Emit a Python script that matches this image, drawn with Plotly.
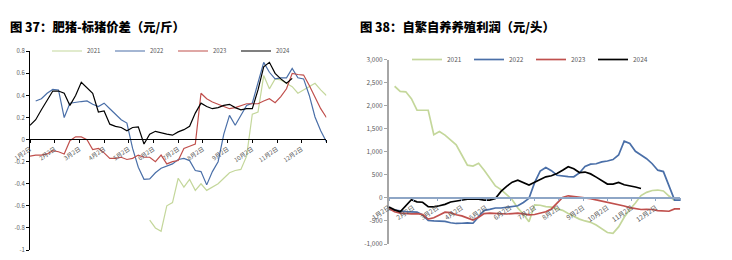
import plotly.graph_objects as go

W, H = 732, 260
FONT = "Noto Sans CJK SC"

years = ["2021", "2022", "2023", "2024"]
colors = ["#C4D79B", "#4A6FA8", "#C0504D", "#000000"]
weeks = list(range(53))
month_labels = ["1月2日", "2月2日", "3月2日", "4月2日", "5月2日", "6月2日",
                "7月2日", "8月2日", "9月2日", "10月2日", "11月2日", "12月2日"]

# 图37 肥猪-标猪价差（元/斤），weekly
spread_2021 = [None] * 21 + [-0.73, -0.80, -0.83, -0.60, -0.57, -0.35, -0.43, -0.36, -0.46, -0.40,
                             -0.46, -0.43, -0.40, -0.35, -0.30, -0.28, -0.27, -0.15, 0.23, 0.25,
                             0.58, 0.46, 0.55, 0.54, 0.51, 0.48, 0.42, 0.45, 0.48, 0.51, 0.45, 0.40]
spread_2022 = [None, 0.35, 0.37, 0.42, 0.455, 0.45, 0.20, 0.33, 0.34, 0.345, 0.35, 0.32, 0.30, 0.33,
               0.28, 0.23, 0.18, 0.15, -0.08, -0.25, -0.36, -0.355, -0.30, -0.26, -0.24, -0.22,
               -0.18, -0.17, -0.19, -0.28, -0.29, -0.41, -0.29, -0.20, 0.05, 0.22, 0.13, 0.22,
               0.31, 0.33, 0.52, 0.70, 0.61, 0.55, 0.56, 0.56, 0.645, 0.56, 0.55, 0.40, 0.205,
               0.08, -0.02]
spread_2023 = [-0.15, -0.14, -0.14, -0.13, -0.10, -0.11, -0.13, -0.01, 0.025, 0.025,
               0.0, -0.09, -0.08, -0.12, -0.17, -0.17, -0.16, -0.18, -0.17, -0.14,
               -0.16, -0.16, -0.20, -0.14, -0.22, -0.20, -0.19, -0.08, -0.06, -0.04,
               0.42, 0.37, 0.34, 0.32, 0.30, 0.28, 0.29, 0.31, 0.325, 0.325,
               0.325, 0.35, 0.37, 0.335, 0.39, 0.46, 0.60, 0.59, 0.585, 0.49,
               0.38, 0.28, 0.20]
spread_2024 = [0.13, 0.18, 0.27, 0.36, 0.44, 0.44, 0.42, 0.31, 0.40, 0.52, 0.47, 0.42, 0.25,
               0.26, 0.14, 0.12, 0.11, 0.08, 0.11, 0.115, -0.04, 0.05, 0.075, 0.06, 0.05, 0.04,
               0.07, 0.09, 0.12, 0.24, 0.33, 0.30, 0.28, 0.29, 0.31, 0.32, 0.29, 0.27, 0.28,
               0.28, 0.45, 0.66, 0.70, 0.60, 0.55, 0.51, 0.555] + [None] * 6

# 图38 自繁自养养殖利润（元/头），weekly
profit_2021 = [None, 2420, 2310, 2300, 2150, 1900, 1900, 1900, 1370, 1440, 1360, 1260, 1150, 930,
               710, 690, 750, 600, 420, 260, 180, 80, -40, -220, -355, -520, -150, -160, -190,
               -200, -240, -270, -340, -400, -460, -500, -530, -590, -670, -750, -770, -630,
               -420, -250, -110, 50, 120, 160, 170, 150, 40, -60, None]
profit_2022 = [-250, -270, -290, -300, -305, -310, -370, -490, -500, -500,
               -510, -540, -555, -550, -540, -550, -410, -270, -250, -220,
               -220, -200, -190, -170, -100, -10, 330, 580, 660, 590,
               490, 470, 460, 457, 540, 680, 730, 740, 780, 800,
               830, 930, 1230, 1180, 1010, 930, 850, 740, 600, 570,
               280, -50, -50]
profit_2023 = [-230, -300, -330, -345, -345, -340, -360, -460, -430, -370,
               -310, -320, -365, -390, -440, -480, -420, -340, -330, -340,
               -350, -350, -340, -330, -345, -370, -360, -330, -300, -240,
               -120, 10, 45, 30, 15, 5, -15, -45, -70, -95,
               -110, -150, -175, -210, -235, -252, -248, -252, -275, -290,
               -290, -240, -240]
profit_2024 = [-200, -260, -300, -180, -40, -87, -95, -190, -196, -170,
               -140, -90, -65, -45, -30, -28, -30, -50, -50, -15,
               140, 250, 340, 385, 340, 280, 340, 400, 457, 480,
               530, 600, 674, 630, 550, 560, 520, 450, 370, 300,
               300, 335, 285, 265, 235, 204] + [None] * 7

left_ticks = [-1, -0.8, -0.6, -0.4, -0.2, 0, 0.2, 0.4, 0.6, 0.8]
left_ticktext = ["-1", "-0.8", "-0.6", "-0.4", "-0.2", "0", "0.2", "0.4", "0.6", "0.8"]
right_ticks = [-1000, -500, 0, 500, 1000, 1500, 2000, 2500, 3000]
right_ticktext = ["-1,000", "-500", "0", "500", "1,000", "1,500", "2,000", "2,500", "3,000"]

titles = ["图 37：肥猪-标猪价差（元/斤）", "图 38：自繁自养养殖利润（元/头）"]

fig = go.Figure()
for name, vals, col in zip(years, [spread_2021, spread_2022, spread_2023, spread_2024], colors):
    fig.add_trace(go.Scatter(x=weeks, y=vals, mode="lines", name=name,
                             line=dict(color=col, width=1.2),
                             xaxis="x", yaxis="y", legend="legend"))
for name, vals, col in zip(years, [profit_2021, profit_2022, profit_2023, profit_2024], colors):
    fig.add_trace(go.Scatter(x=weeks, y=vals, mode="lines", name=name,
                             line=dict(color=col, width=1.7),
                             xaxis="x2", yaxis="y2", legend="legend2"))

month_ticks = [i * 52 / 12 for i in range(13)]
tick_font = dict(family=FONT, size=6, color="#595959")

def px_x(p):
    return p / W

def px_y(p):
    return 1 - p / H

fig.update_layout(
    width=W, height=H, margin=dict(l=0, r=0, t=0, b=0, autoexpand=False),
    paper_bgcolor="white", plot_bgcolor="rgba(0,0,0,0)",
    font=dict(family=FONT),
    xaxis=dict(domain=[px_x(30), px_x(326.4)], range=[0, 52], anchor="free",
               position=px_y(139.3), showline=True, linecolor="#000", linewidth=1,
               ticks="outside", ticklen=3, tickcolor="#000", tickvals=month_ticks,
               ticktext=month_labels + [""], tickangle=-35, tickfont=tick_font,
               showgrid=False, zeroline=False),
    yaxis=dict(domain=[px_y(250), px_y(51.3)], range=[-1, 0.8], anchor="x",
               showline=True, linecolor="#000", linewidth=1, ticks="outside",
               ticklen=3, tickcolor="#000", tickvals=left_ticks, ticktext=left_ticktext,
               tickfont=tick_font, showgrid=False, zeroline=False),
    xaxis2=dict(domain=[px_x(389), px_x(680.2)], range=[0, 52], anchor="free",
                position=px_y(197.7), showline=True, linecolor="#8EA6C6", linewidth=1.5,
                ticks="outside", ticklen=3, tickcolor="#8EA6C6", tickvals=month_ticks,
                ticktext=month_labels + [""], tickangle=-35,
                tickfont=dict(family=FONT, size=6.5, color="#595959"),
                showgrid=False, zeroline=False),
    yaxis2=dict(domain=[px_y(244), px_y(59.5)], range=[-1000, 3000], anchor="x2",
                showline=True, linecolor="#A6A6A6", linewidth=2, ticks="outside",
                ticklen=3, tickcolor="#A6A6A6", tickvals=right_ticks, ticktext=right_ticktext,
                tickfont=dict(family=FONT, size=6.5, color="#595959"),
                showgrid=False, zeroline=False),
    legend=dict(orientation="h", x=px_x(47), xanchor="left", y=px_y(51), yanchor="middle",
                font=dict(family=FONT, size=6, color="#595959"), entrywidth=18,
                entrywidthmode="pixels", bgcolor="rgba(0,0,0,0)", itemwidth=30,
                tracegroupgap=0),
    legend2=dict(orientation="h", x=px_x(407), xanchor="left", y=px_y(59.5), yanchor="middle",
                 font=dict(family=FONT, size=6.5, color="#595959"), entrywidth=17,
                 entrywidthmode="pixels", bgcolor="rgba(0,0,0,0)", itemwidth=30,
                 tracegroupgap=0),
    showlegend=True,
)

for tx, t in zip([8, 358], titles):
    fig.add_annotation(xref="paper", yref="paper", x=px_x(tx), y=px_y(27),
                       xanchor="left", yanchor="middle", showarrow=False,
                       text=t,
                       font=dict(family=FONT, size=12.3, color="#000", weight=900))

fig.write_html("out.html")
